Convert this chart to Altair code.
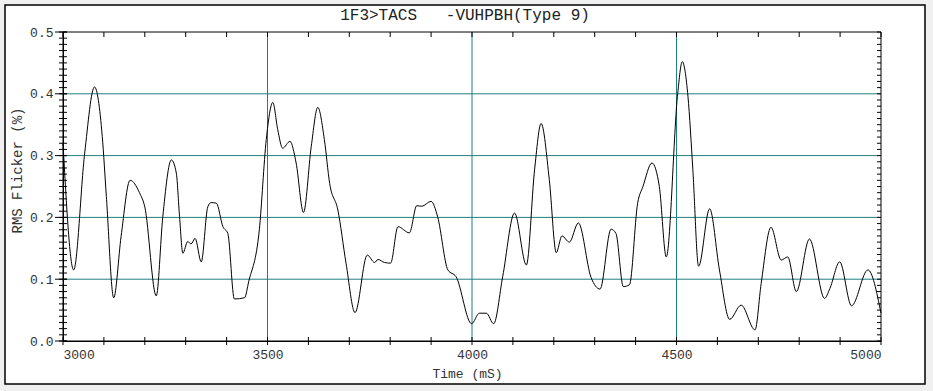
import altair as alt
import pandas as pd

# ---- data ----
time_ms = [3000, 3026, 3053, 3077, 3096, 3106, 3124, 3142, 3164, 3187, 3200, 3228,
           3244, 3265, 3277, 3285, 3293, 3305, 3313, 3323, 3338, 3354, 3362, 3375,
           3391, 3403, 3419, 3444, 3454, 3480, 3497, 3513, 3525, 3537, 3555, 3570,
           3588, 3607, 3623, 3639, 3652, 3672, 3692, 3714, 3744, 3762, 3770, 3786,
           3801, 3819, 3847, 3865, 3877, 3900, 3916, 3941, 3961, 3999, 4018, 4035,
           4053, 4075, 4104, 4133, 4153, 4169, 4189, 4206, 4220, 4238, 4260, 4291,
           4313, 4340, 4352, 4370, 4385, 4405, 4418, 4440, 4458, 4475, 4503, 4514,
           4528, 4540, 4554, 4581, 4605, 4630, 4658, 4692, 4707, 4731, 4756, 4772,
           4793, 4825, 4862, 4875, 4899, 4928, 4968, 5000]
rms_flicker = [0.320, 0.115, 0.304, 0.411, 0.331, 0.234, 0.070, 0.169, 0.260, 0.240, 0.217, 0.073,
               0.201, 0.293, 0.272, 0.201, 0.142, 0.161, 0.157, 0.166, 0.128, 0.217, 0.224, 0.223,
               0.185, 0.174, 0.068, 0.070, 0.096, 0.180, 0.326, 0.386, 0.342, 0.312, 0.323, 0.288,
               0.208, 0.315, 0.378, 0.326, 0.255, 0.212, 0.126, 0.046, 0.139, 0.127, 0.132, 0.127,
               0.126, 0.185, 0.175, 0.219, 0.218, 0.226, 0.201, 0.115, 0.104, 0.028, 0.045, 0.045,
               0.028, 0.104, 0.207, 0.123, 0.277, 0.352, 0.261, 0.143, 0.170, 0.160, 0.191, 0.103,
               0.084, 0.181, 0.174, 0.088, 0.091, 0.223, 0.250, 0.288, 0.250, 0.136, 0.401, 0.452,
               0.396, 0.277, 0.121, 0.214, 0.115, 0.035, 0.058, 0.018, 0.093, 0.184, 0.131, 0.136,
               0.080, 0.165, 0.069, 0.085, 0.128, 0.057, 0.115, 0.045]

x_labels = [3000, 3500, 4000, 4500, 5000]
y_labels = [0.0, 0.1, 0.2, 0.3, 0.4, 0.5]
x_grid = [3500, 4000, 4500]
y_grid = [0.1, 0.2, 0.3, 0.4]
x_minor = list(range(3000, 5001, 100))
y_minor = [i / 100 for i in range(0, 51)]

NB = "\u00a0"
TITLE = "1F3>TACS" + NB * 3 + "-VUHPBH(Type" + NB + "9)"
FONT = "Courier New, Liberation Mono, monospace"
GRID = "#1f7f80"
W, H = 818, 309

df = pd.DataFrame({"t": time_ms, "v": rms_flicker})
xs = alt.Scale(domain=[3000, 5000], nice=False, zero=False)
ys = alt.Scale(domain=[0, 0.5], nice=False, zero=False)
one = pd.DataFrame({"a": [0]})

frame = alt.Chart(one).mark_rect(
    fill="white", stroke="black", strokeWidth=1.5
).encode(x=alt.value(-58), x2=alt.value(862), y=alt.value(-27), y2=alt.value(352))

title = alt.Chart(one).mark_text(
    font=FONT, fontSize=16, color="#222", align="center", baseline="middle"
).encode(x=alt.value(402), y=alt.value(-17), text=alt.value(TITLE))

vgrid = alt.Chart(pd.DataFrame({"t": x_grid})).mark_rule(color=GRID, strokeWidth=1).encode(
    x=alt.X("t:Q", scale=xs))
hgrid = alt.Chart(pd.DataFrame({"v": y_grid})).mark_rule(color=GRID, strokeWidth=1).encode(
    y=alt.Y("v:Q", scale=ys))

border = alt.Chart(one).mark_rect(fill=None, stroke="black", strokeWidth=1).encode(
    x=alt.value(0), x2=alt.value(W), y=alt.value(0), y2=alt.value(H))

xt = pd.DataFrame({"t": x_minor})
yt = pd.DataFrame({"v": y_minor})
yt_major = pd.DataFrame({"v": y_labels})

bottom_ticks = alt.Chart(xt).mark_rule(color="black").encode(
    x=alt.X("t:Q", scale=xs), y=alt.value(H - 4), y2=alt.value(H + 4))
top_ticks = alt.Chart(xt).mark_rule(color="black").encode(
    x=alt.X("t:Q", scale=xs), y=alt.value(0), y2=alt.value(5))
left_ticks = alt.Chart(yt).mark_rule(color="black").encode(
    y=alt.Y("v:Q", scale=ys), x=alt.value(-4), x2=alt.value(4))
left_major = alt.Chart(yt_major).mark_rule(color="black").encode(
    y=alt.Y("v:Q", scale=ys), x=alt.value(-8), x2=alt.value(4))
right_ticks = alt.Chart(yt).mark_rule(color="black").encode(
    y=alt.Y("v:Q", scale=ys), x=alt.value(W - 4), x2=alt.value(W))

line = alt.Chart(df).mark_line(color="black", strokeWidth=1, interpolate="monotone").encode(
    x=alt.X("t:Q", scale=xs, title="Time (mS)",
            axis=alt.Axis(values=x_labels, ticks=False, grid=False, domainColor="black",
                          labelPadding=7, titlePadding=6, format="d", zindex=1,
                          titleX=404)),
    y=alt.Y("v:Q", scale=ys, title="RMS Flicker (%)",
            axis=alt.Axis(values=y_labels, ticks=False, grid=False, domainColor="black",
                          labelPadding=10, format=".1f", zindex=1,
                          titleX=-46, titleY=138, titleBaseline="middle",
                          titleFontSize=14)),
)

chart = alt.layer(frame, vgrid, hgrid, border, bottom_ticks, top_ticks, left_ticks,
                  left_major, right_ticks, line, title).properties(
    width=W, height=H,
    autosize=alt.AutoSizeParams(type="none"),
    padding={"left": 63, "top": 32, "right": 52, "bottom": 50},
    background="#f0f0f0",
).configure_view(stroke=None).configure_axis(
    labelFont=FONT, labelFontSize=13, labelColor="#333", titleFont=FONT,
    titleFontSize=13, titleFontWeight="normal", titleColor="#333", domainWidth=1,
)

chart.save("out.html", embed_options={"renderer": "svg", "actions": False})
